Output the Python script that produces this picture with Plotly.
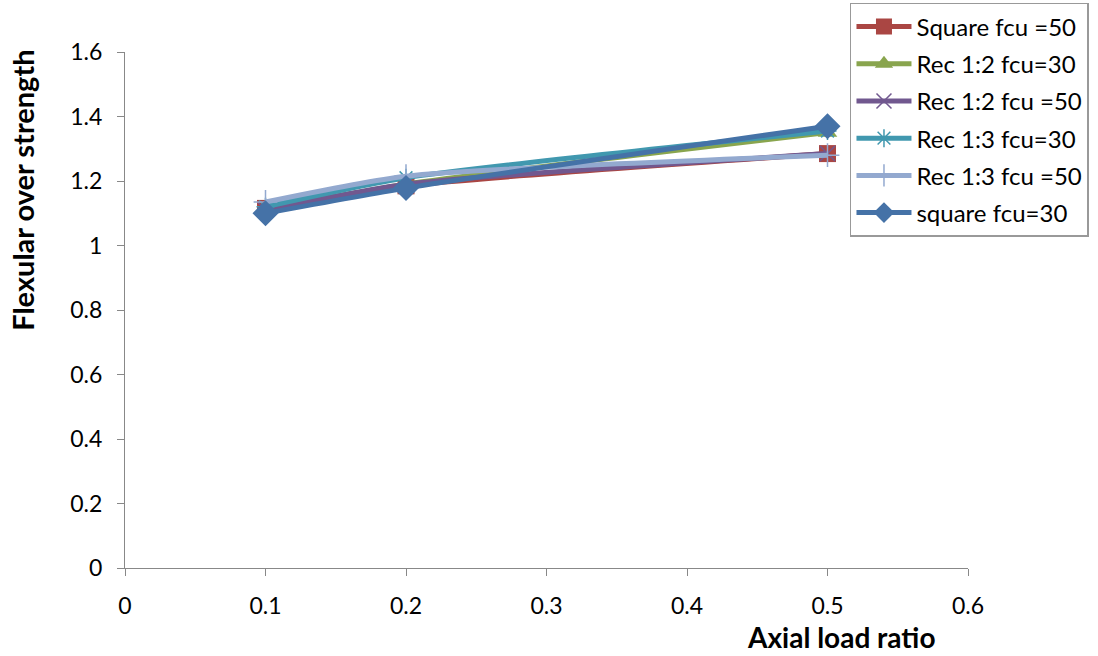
import plotly.graph_objects as go

# Axial load ratios tested
axial_ratio = [0.1, 0.2, 0.5]

# Flexural over-strength factor per section / concrete grade
square_fcu50 = [1.115, 1.185, 1.285]
rec12_fcu30 = [1.11, 1.19, 1.35]
rec12_fcu50 = [1.11, 1.19, 1.285]
rec13_fcu30 = [1.12, 1.21, 1.355]
rec13_fcu50 = [1.135, 1.215, 1.28]
square_fcu30 = [1.10, 1.178, 1.37]

series_names = [
    "Square fcu =50",
    "Rec 1:2 fcu=30",
    "Rec 1:2 fcu =50",
    "Rec 1:3 fcu=30",
    "Rec 1:3 fcu =50",
    "square fcu=30",
]
series_values = [square_fcu50, rec12_fcu30, rec12_fcu50, rec13_fcu30, rec13_fcu50, square_fcu30]

x_ticks = [0, 0.1, 0.2, 0.3, 0.4, 0.5, 0.6]
y_ticks = [0, 0.2, 0.4, 0.6, 0.8, 1.0, 1.2, 1.4, 1.6]
y_tick_text = ["0", "0.2", "0.4", "0.6", "0.8", "1", "1.2", "1.4", "1.6"]

styles = [
    dict(color="#AA4643", symbol="square", size=17, lw=0),
    dict(color="#89A54E", symbol="triangle-up", size=17, lw=0),
    dict(color="#71588F", symbol="x-thin-open", size=15, lw=1.5),
    dict(color="#4198AF", symbol="asterisk-open", size=15, lw=1.5),
    dict(color="#93A9CF", symbol="cross-thin-open", size=17, lw=1.5),
    dict(color="#4572A7", symbol="diamond", size=20, lw=0),
]

FONT = "Lato, Open Sans, sans-serif"

fig = go.Figure()
for i, (name, vals, st) in enumerate(zip(series_names, series_values, styles)):
    fig.add_trace(go.Scatter(
        x=axial_ratio, y=vals, name=name, legendgroup=f"g{i}",
        mode="lines+markers",
        line=dict(color=st["color"], width=5, shape="spline", smoothing=0.6),
        marker=dict(symbol=st["symbol"], size=st["size"], color=st["color"],
                    line=dict(color=st["color"], width=st["lw"])),
    ))

axis_common = dict(
    showgrid=False, zeroline=False, showline=True,
    linecolor="#888888", linewidth=1.2,
    ticks="outside", ticklen=7, tickcolor="#888888",
    tickfont=dict(family=FONT, size=23, color="#000000"),
)

fig.update_layout(
    width=1098, height=656,
    margin=dict(l=125, r=130, t=52, b=88, autoexpand=False),
    paper_bgcolor="white", plot_bgcolor="white",
    font=dict(family=FONT, color="#000000"),
    xaxis=dict(range=[0, 0.6], tickvals=x_ticks, ticktext=[str(v) for v in x_ticks],
               ticklabelstandoff=10, **axis_common),
    yaxis=dict(range=[0, 1.6], tickvals=y_ticks, ticktext=y_tick_text,
               ticklabelstandoff=10, **axis_common),
    legend=dict(
        x=0.86, y=1.095, xanchor="left", yanchor="top",
        bgcolor="white", bordercolor="#999999", borderwidth=1.5,
        font=dict(family=FONT, size=24, color="#000000"),
        itemwidth=55, tracegroupgap=3,
    ),
    annotations=[
        dict(text="<b>Flexular over strength</b>", xref="paper", yref="paper",
             x=-0.121, y=0.733, textangle=-90, showarrow=False,
             font=dict(family=FONT, size=29, color="#000000"),
             xanchor="center", yanchor="middle"),
        dict(text="<b>Axial load ratio</b>", xref="paper", yref="paper",
             x=0.849, y=-0.133, showarrow=False,
             font=dict(family=FONT, size=28, color="#000000"),
             xanchor="center", yanchor="middle"),
    ],
)

fig.write_html("out.html")
